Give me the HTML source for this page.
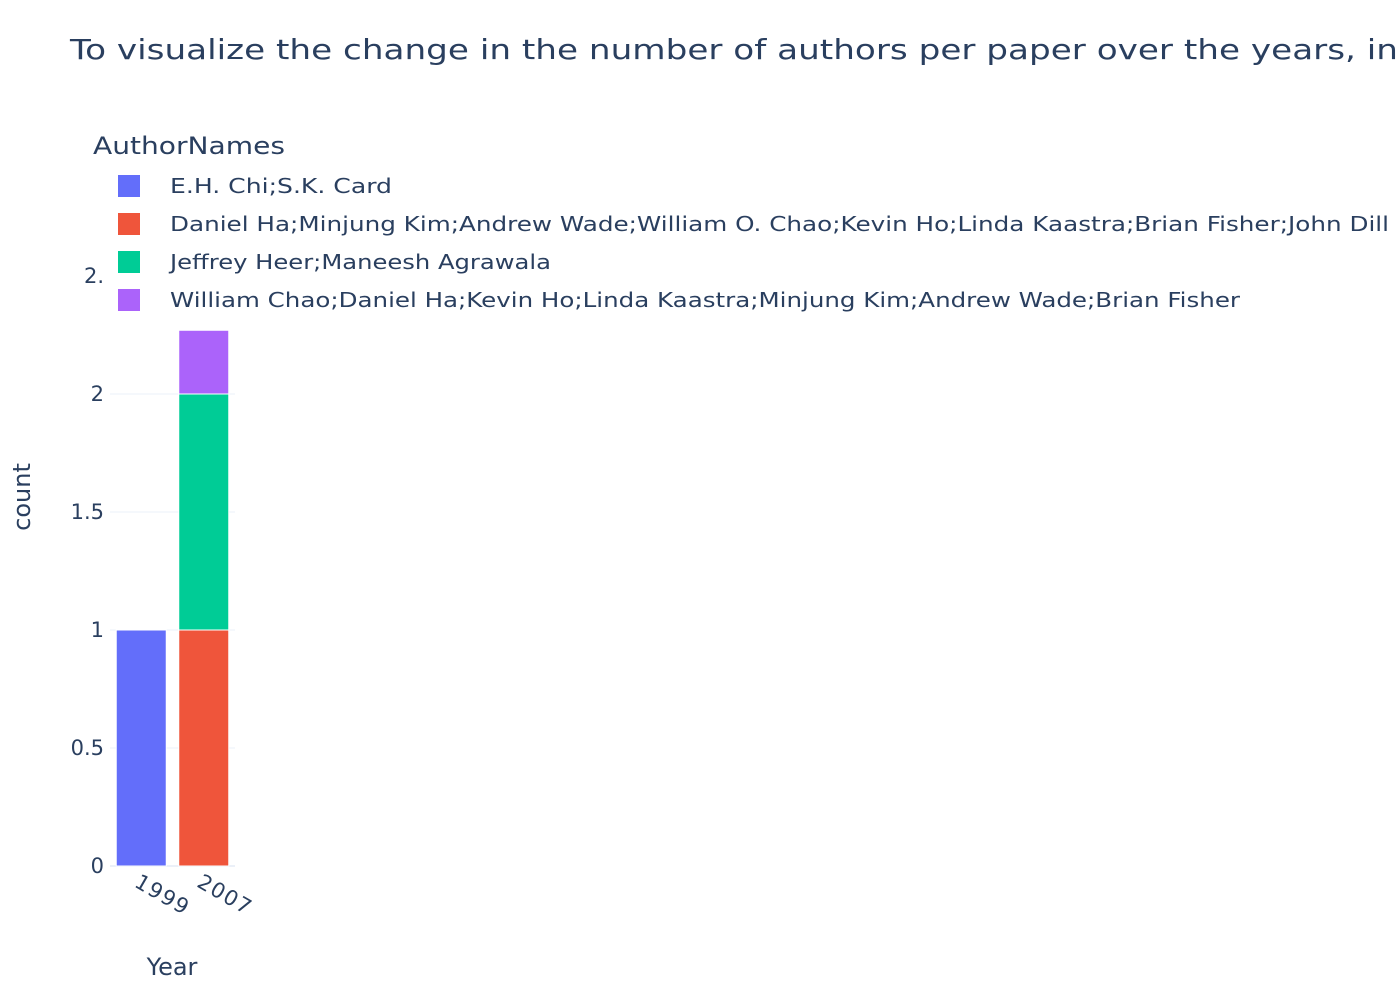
<!DOCTYPE html>
<html><head><meta charset="utf-8"><style>
body{margin:0;background:#fff;}
svg text{font-family:"DejaVu Sans","Liberation Sans",sans-serif;fill:#2a3f5f;}
</style></head><body>
<svg id="c" width="1400" height="1000">
<text x="70" y="59" font-size="28" textLength="1328" lengthAdjust="spacingAndGlyphs">To visualize the change in the number of authors per paper over the years, in</text>
<g id="grid"></g><g id="bars"></g>
<text transform="translate(30,497) rotate(-90)" text-anchor="middle" font-size="24">count</text>
<text x="172" y="975" text-anchor="middle" font-size="24">Year</text>
<g id="legend"></g><g id="ticks"></g>
</svg>
<script>
const categories=["1999","2007"];
const seriesNames=["E.H. Chi;S.K. Card","Daniel Ha;Minjung Kim;Andrew Wade;William O. Chao;Kevin Ho;Linda Kaastra;Brian Fisher;John Dill","Jeffrey Heer;Maneesh Agrawala","William Chao;Daniel Ha;Kevin Ho;Linda Kaastra;Minjung Kim;Andrew Wade;Brian Fisher"];
const seriesCat=["1999","2007","2007","2007"];
const seriesValues=[1,1,1,0.27];
const colors=["#636efa","#EF553B","#00cc96","#ab63fa"];
const yTicks=[0,0.5,1,1.5,2,2.5];
const yTickLabels=["0","0.5","1","1.5","2","2."];
const NS="http://www.w3.org/2000/svg";
const x0=110,x1=235,y0=866,pxPerUnit=236;
const y=v=>y0-v*pxPerUnit;
const bw=(x1-x0)/categories.length;
const xc=c=>x0+bw*(categories.indexOf(c)+0.5);
function mk(p,t,a){const e=document.createElementNS(NS,t);for(const k in a)e.setAttribute(k,a[k]);p.appendChild(e);return e;}
const grid=document.getElementById('grid'),bars=document.getElementById('bars'),ticks=document.getElementById('ticks'),leg=document.getElementById('legend');
yTicks.forEach((t,i)=>{
 const l=mk(grid,'line',{x1:x0,x2:x1,y1:y(t),y2:y(t),stroke:'#ebf0f8','stroke-width':i==0?2:1});
 
 
 const tx=mk(ticks,'text',{x:x0-6,y:y(t)+7,'text-anchor':'end','font-size':21});
 tx.textContent=yTickLabels[i];
 
 
});
const stack={};
seriesValues.forEach((v,i)=>{
 const c=seriesCat[i];const base=stack[c]||0;stack[c]=base+v;
 const r=mk(bars,'rect',{x:xc(c)-bw*0.4,width:bw*0.8,y:y(base+v),height:v*pxPerUnit,fill:colors[i],stroke:'#fff','stroke-width':1});
 
 
});
categories.forEach(c=>{
 const t=mk(ticks,'text',{transform:`translate(${xc(c)-8},${886}) rotate(30)`,'font-size':21,'letter-spacing':1.5});
 t.textContent=c;
 
 
});
const bg=mk(leg,'rect',{x:88,y:118,width:1312,height:200,fill:'#fff'});


const lt=mk(leg,'text',{x:93,y:154,'font-size':24,textLength:192,lengthAdjust:'spacingAndGlyphs'});lt.textContent='AuthorNames';


const legendLens=[222,1219,381,1070];
seriesNames.forEach((n,i)=>{
 const yy=186+i*38;
 const s=mk(leg,'rect',{x:118,y:yy-11,width:22,height:22,fill:colors[i]});
 
 
 const t=mk(leg,'text',{x:170,y:yy+7,'font-size':20,textLength:legendLens[i],lengthAdjust:'spacingAndGlyphs'});t.textContent=n;
 
 
});
</script>
</body></html>
